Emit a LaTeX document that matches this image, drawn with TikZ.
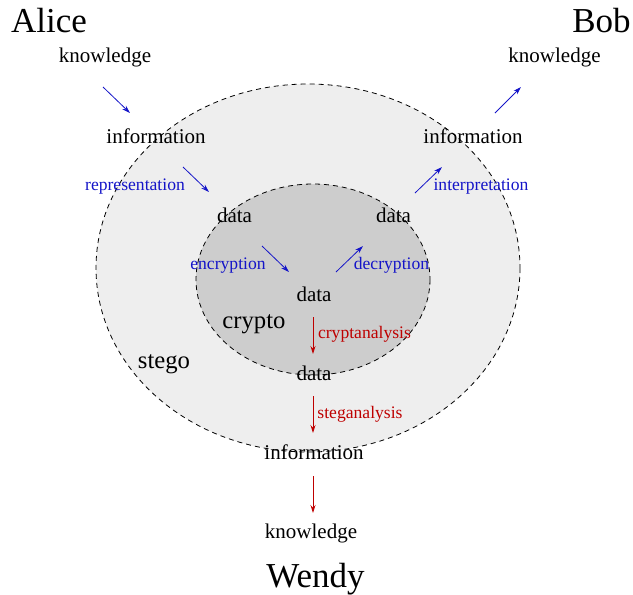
\documentclass[tikz,border=0pt]{standalone}
\usepackage{fontspec}
\setmainfont{Liberation Serif}
\usetikzlibrary{arrows.meta}
\definecolor{flowblue}{RGB}{20,20,200}
\definecolor{flowred}{RGB}{190,0,0}
\definecolor{stegofill}{RGB}{238,238,238}
\definecolor{cryptofill}{RGB}{205,205,205}

\begin{document}
\begin{tikzpicture}[x=1pt, y=-1pt,
  lbl/.style={anchor=base, inner sep=0pt},
  party/.style={lbl, font=\fontsize{35}{40}\selectfont},
  area/.style={lbl, font=\fontsize{24.7}{28}\selectfont},
  level/.style={lbl, font=\fontsize{21}{24}\selectfont},
  proc/.style={lbl, font=\fontsize{17.6}{20}\selectfont},
  flow/.style={-{Stealth[length=8pt, width=5pt]}, line width=0.8pt},
  zone/.style={dash pattern=on 5pt off 4pt, line width=0.8pt}]
  \useasboundingbox (0,0) rectangle (633,595);

  % Stego and crypto zones
  \draw[zone, fill=stegofill] (308,268) ellipse [x radius=212, y radius=184];
  \draw[zone, fill=cryptofill] (313,279.5) ellipse [x radius=117, y radius=95.5];

  % Parties
  \node[party] (alice) at (49,32) {Alice};
  \node[party] (bob) at (601.5,32) {Bob};
  \node[party] (wendy) at (315.5,587) {Wendy};

  % Levels
  \node[level] (knowA) at (105,62) {knowledge};
  \node[level] (infoA) at (156,143) {information};
  \node[level] (dataA) at (234.5,222) {data};
  \node[level] (knowB) at (554.5,62) {knowledge};
  \node[level] (infoB) at (473,143) {information};
  \node[level] (dataB) at (393.5,222) {data};
  \node[level] (dataC) at (314,301) {data};
  \node[level] (dataW) at (314,380) {data};
  \node[level] (infoW) at (314,459) {information};
  \node[level] (knowW) at (311,538) {knowledge};

  % Zone names
  \node[area] (crypto) at (254,328) {crypto};
  \node[area] (stego) at (164,368) {stego};

  % Processes
  \node[proc, flowblue] (repr) at (135,190) {representation};
  \node[proc, flowblue] (interp) at (481,190) {interpretation};
  \node[proc, flowblue] (encr) at (228,269) {encryption};
  \node[proc, flowblue] (decr) at (391.5,269) {decryption};
  \node[proc, flowred] (cana) at (364.5,338) {cryptanalysis};
  \node[proc, flowred] (sana) at (360,418) {steganalysis};

  % Arrow ends
  \coordinate (kA1) at (103,87);   \coordinate (kA2) at (130,113);
  \coordinate (iA1) at (183,167);  \coordinate (iA2) at (209,192);
  \coordinate (dA1) at (262,246);  \coordinate (dA2) at (289,272);
  \coordinate (dB1) at (336,272);  \coordinate (dB2) at (363,246);
  \coordinate (iB1) at (415,193);  \coordinate (iB2) at (442,167);
  \coordinate (kB1) at (495,113);  \coordinate (kB2) at (521,87);
  \coordinate (dC1) at (313,317);  \coordinate (dC2) at (313,354);
  \coordinate (dW1) at (313,396);  \coordinate (dW2) at (313,433);
  \coordinate (iW1) at (313,476);  \coordinate (iW2) at (313,513);

  \draw[flow, flowblue] (kA1) -- (kA2);
  \draw[flow, flowblue] (iA1) -- (iA2);
  \draw[flow, flowblue] (dA1) -- (dA2);
  \draw[flow, flowblue] (dB1) -- (dB2);
  \draw[flow, flowblue] (iB1) -- (iB2);
  \draw[flow, flowblue] (kB1) -- (kB2);
  \draw[flow, flowred] (dC1) -- (dC2);
  \draw[flow, flowred] (dW1) -- (dW2);
  \draw[flow, flowred] (iW1) -- (iW2);
\end{tikzpicture}
\end{document}
